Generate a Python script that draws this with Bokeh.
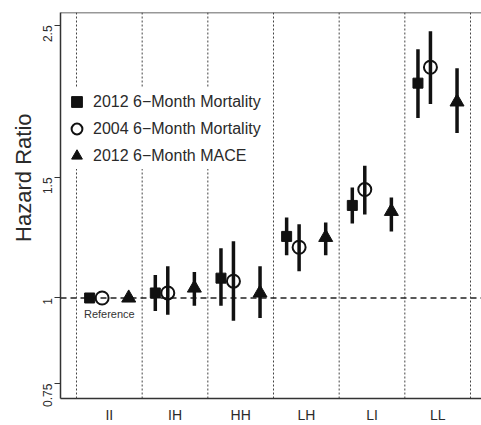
import math
from bokeh.plotting import figure
from bokeh.models import (FixedTicker, Span, Legend, LegendItem, Title, Range1d)
from bokeh.core.properties import value
from bokeh.embed import file_html
from bokeh.resources import INLINE

# ---- data ----
categories = ["II", "IH", "HH", "LH", "LI", "LL"]

mort2012_hr = [1.00, 1.017, 1.069, 1.230, 1.365, 2.059]
mort2012_lo = [1.00, 0.957, 0.974, 1.155, 1.285, 1.832]
mort2012_hi = [1.00, 1.080, 1.182, 1.311, 1.450, 2.307]

mort2004_hr = [1.00, 1.017, 1.058, 1.186, 1.440, 2.172]
mort2004_lo = [1.00, 0.945, 0.926, 1.094, 1.324, 1.920]
mort2004_hi = [1.00, 1.113, 1.210, 1.281, 1.560, 2.451]

mace2012_hr = [1.00, 1.034, 1.017, 1.226, 1.338, 1.933]
mace2012_lo = [1.00, 0.974, 0.935, 1.155, 1.251, 1.742]
mace2012_hi = [1.00, 1.091, 1.113, 1.289, 1.402, 2.165]

y_ticks = [0.75, 1, 1.5, 2.5]
y_tick_labels = ["0.75", "1", "1.5", "2.5"]

series_labels = ["2012 6\u2212Month Mortality",
                 "2004 6\u2212Month Mortality",
                 "2012 6\u2212Month MACE"]

FONT = "Liberation Sans"
INK = "#111111"
TXT = "#2a2a2a"

idx = list(range(1, len(categories) + 1))
dodge = [-0.30, -0.11, 0.295]

p = figure(width=481, height=425, output_backend="svg", toolbar_location=None,
           y_axis_type="log",
           x_range=Range1d(0.2563, 6.6675), y_range=Range1d(0.7133, 2.611),
           min_border_left=60, min_border_right=0, min_border_top=12,
           min_border_bottom=25)
p.outline_line_color = None
p.background_fill_color = "white"
p.grid.visible = False

# vertical dotted separators
for k in range(len(categories) + 1):
    s = Span(location=0.5 + k, dimension="height", line_color="#444444",
             line_width=1, line_dash="2 2",
             level="overlay" if k == 0 else "underlay")
    p.add_layout(s)

# reference dashed line at HR = 1
p.add_layout(Span(location=1, dimension="width", line_color="#222222",
                  line_width=1.5, line_dash="6 4", level="underlay"))
# top border
p.add_layout(Span(location=2.611, dimension="width", line_color="#333333",
                  line_width=1.5))

series = [
    (mort2012_hr, mort2012_lo, mort2012_hi, dict(marker="square", size=10,
                                                   fill_color=INK, line_color=INK)),
    (mort2004_hr, mort2004_lo, mort2004_hi, dict(marker="circle", size=13,
                                                   fill_color=None, line_color=INK,
                                                   line_width=2)),
    (mace2012_hr, mace2012_lo, mace2012_hi, dict(marker="triangle", size=14,
                                                   fill_color=INK, line_color=INK)),
]

items = []
for (hr, lo, hi, style), d, lab in zip(series, dodge, series_labels):
    xs = [i + d for i in idx]
    p.segment(x0=xs, y0=lo, x1=xs, y1=hi, line_width=3.5, line_color=INK)
    r = p.scatter(x=xs, y=hr, **style)
    items.append(LegendItem(label=lab, renderers=[r]))

# "Reference" note under the II group
p.text(x=[idx[0]], y=[mort2012_hr[0]], text=["Reference"], y_offset=16,
       text_align="center", text_baseline="middle", text_font=value(FONT),
       text_font_size="11px", text_color="#333333")

legend = Legend(items=items, location=(3, 229), orientation="vertical",
                glyph_width=27, glyph_height=27, label_height=27, spacing=0,
                padding=0, margin=0, label_standoff=3,
                label_text_font=FONT, label_text_font_size="16px",
                label_text_color=TXT, border_line_color=None,
                background_fill_color="white", background_fill_alpha=1.0)
p.add_layout(legend)

# y axis
ya = p.yaxis[0]
ya.ticker = FixedTicker(ticks=y_ticks, minor_ticks=[])
ya.major_label_overrides = {t: l for t, l in zip(y_ticks, y_tick_labels)}
ya.major_label_orientation = math.pi / 2
ya.major_tick_in = 0
ya.major_tick_out = 6
ya.minor_tick_in = 0
ya.minor_tick_out = 0
ya.major_label_standoff = 7
ya.major_label_text_font = FONT
ya.major_label_text_font_size = "12px"
ya.major_label_text_color = TXT
ya.axis_line_width = 1.5
ya.axis_line_color = "#333333"
ya.major_tick_line_color = "#333333"
ya.major_tick_line_width = 1.2

# x axis
xa = p.xaxis[0]
xa.ticker = FixedTicker(ticks=idx, minor_ticks=[])
xa.major_label_overrides = {i: c for i, c in zip(idx, categories)}
xa.major_tick_in = 0
xa.major_tick_out = 0
xa.minor_tick_in = 0
xa.minor_tick_out = 0
xa.major_label_standoff = 8
xa.major_label_text_font = FONT
xa.major_label_text_font_size = "14px"
xa.major_label_text_color = TXT
xa.axis_line_width = 1.5
xa.axis_line_color = "#333333"

# y axis title, placed as in the reference (above the frame's middle)
t = Title(text="Hazard Ratio", align="right", offset=101, standoff=0,
          text_font=FONT, text_font_size="22px", text_font_style="normal",
          text_color=TXT)
p.add_layout(t, "left")

open("out.html", "w").write(file_html(p, INLINE))
